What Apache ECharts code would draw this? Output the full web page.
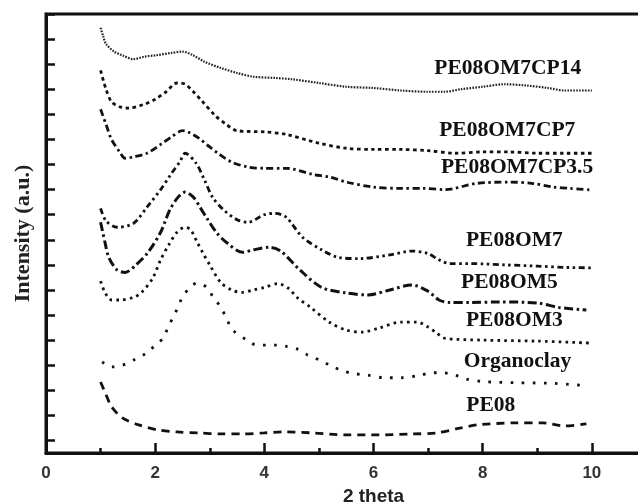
<!DOCTYPE html>
<html>
<head>
<meta charset="utf-8">
<script src="https://cdn.jsdelivr.net/npm/echarts@6/dist/echarts.min.js"></script>
<style>html,body{margin:0;padding:0;background:#fff}#c{width:638px;height:502px}</style>
</head>
<body>
<div id="c"></div>
<script>
const seriesNames = ['PE08OM7CP14','PE08OM7CP7','PE08OM7CP3.5','PE08OM7','PE08OM5','PE08OM3','Organoclay','PE08'];
const xTickLabels = ['0','2','4','6','8','10'];

const cp14 = [[1.0,16.45],[1.05,16.1],[1.1,15.8],[1.25,15.5],[1.4,15.35],[1.6,15.2],[1.8,15.3],[2.0,15.35],[2.3,15.45],[2.5,15.5],[2.7,15.35],[2.9,15.1],[3.2,14.85],[3.5,14.65],[3.8,14.5],[4.2,14.45],[4.5,14.4],[5.0,14.25],[5.5,14.1],[6.0,14.05],[6.5,13.95],[7.0,13.9],[7.3,13.9],[7.6,14.0],[8.0,14.1],[8.4,14.2],[8.8,14.15],[9.2,14.05],[9.5,13.95],[10,13.95]];
const cp7 = [[1.0,14.75],[1.1,14.0],[1.2,13.5],[1.35,13.3],[1.5,13.25],[1.8,13.4],[2.0,13.6],[2.2,13.9],[2.4,14.25],[2.55,14.2],[2.7,13.9],[2.85,13.55],[3.1,12.95],[3.3,12.6],[3.5,12.35],[4.0,12.3],[4.4,12.2],[5.0,11.85],[5.5,11.65],[6.0,11.6],[6.5,11.6],[7.0,11.55],[7.5,11.45],[8.0,11.5],[8.5,11.5],[9.0,11.45],[9.5,11.45],[10,11.45]];
const cp35 = [[1.0,13.2],[1.1,12.6],[1.2,12.0],[1.35,11.5],[1.45,11.25],[1.6,11.3],[1.85,11.45],[2.1,11.8],[2.3,12.1],[2.5,12.35],[2.6,12.3],[2.8,12.05],[3.0,11.7],[3.15,11.45],[3.4,11.1],[3.7,10.9],[4.0,10.85],[4.4,10.85],[4.9,10.6],[5.2,10.5],[5.5,10.3],[6.0,10.1],[6.5,10.05],[6.9,10.05],[7.3,10.0],[7.9,10.25],[8.5,10.3],[8.9,10.25],[9.3,10.1],[9.6,10.05],[10,9.98]];
const om7 = [[1.0,9.25],[1.1,8.75],[1.3,8.5],[1.6,8.65],[1.85,9.3],[2.1,10.0],[2.3,10.65],[2.45,11.1],[2.55,11.45],[2.75,11.05],[2.9,10.4],[3.05,9.7],[3.25,9.2],[3.5,8.8],[3.7,8.7],[4.0,9.0],[4.2,9.05],[4.4,8.9],[4.7,8.1],[5.05,7.6],[5.35,7.3],[5.75,7.25],[6.3,7.4],[6.7,7.55],[7.0,7.45],[7.2,7.2],[7.4,7.05],[7.8,7.05],[8.4,7.0],[9.0,6.95],[9.5,6.9],[10,6.88]];
const om5 = [[1.0,8.7],[1.08,7.9],[1.15,7.3],[1.3,6.8],[1.45,6.7],[1.65,7.0],[1.87,7.5],[2.1,8.3],[2.27,9.2],[2.42,9.7],[2.55,9.9],[2.7,9.7],[2.82,9.3],[2.95,8.85],[3.13,8.27],[3.32,7.87],[3.6,7.5],[3.8,7.6],[4.1,7.7],[4.3,7.55],[4.65,6.8],[5.05,6.1],[5.5,5.88],[5.9,5.8],[6.3,6.0],[6.7,6.2],[7.0,5.95],[7.2,5.6],[7.4,5.5],[7.8,5.5],[8.3,5.52],[9.0,5.48],[9.4,5.3],[9.9,5.2]];
const om3 = [[1.0,6.35],[1.08,5.9],[1.2,5.6],[1.35,5.6],[1.6,5.7],[1.75,5.9],[1.95,6.45],[2.1,7.2],[2.25,7.8],[2.4,8.3],[2.55,8.5],[2.65,8.4],[2.77,7.9],[2.88,7.45],[3.0,7.0],[3.2,6.3],[3.4,6.0],[3.6,5.9],[3.8,6.0],[4.0,6.1],[4.25,6.25],[4.45,6.05],[4.6,5.7],[4.85,5.3],[5.2,4.7],[5.5,4.4],[5.8,4.32],[6.1,4.48],[6.5,4.72],[6.8,4.72],[7.0,4.52],[7.15,4.3],[7.3,4.08],[8.0,4.0],[9.0,3.96],[10,3.88]];
const organoclay = [[1.03,3.13],[1.2,2.93],[1.4,3.0],[1.6,3.2],[1.78,3.4],[1.9,3.6],[2.05,3.88],[2.15,4.08],[2.23,4.48],[2.33,4.92],[2.42,5.32],[2.5,5.72],[2.64,6.1],[2.77,6.28],[2.95,6.1],[3.06,5.72],[3.2,5.32],[3.32,4.8],[3.42,4.4],[3.68,4.0],[3.86,3.8],[4.05,3.8],[4.23,3.8],[4.41,3.75],[4.6,3.65],[4.8,3.4],[5.02,3.2],[5.2,3.0],[5.4,2.8],[5.6,2.68],[5.9,2.6],[6.2,2.5],[6.5,2.5],[6.85,2.6],[7.07,2.7],[7.27,2.7],[7.5,2.6],[7.7,2.45],[8.0,2.35],[8.6,2.3],[9.25,2.28],[9.8,2.2]];
const pe08 = [[1.0,2.33],[1.08,1.93],[1.2,1.35],[1.4,0.9],[1.7,0.62],[2.05,0.42],[2.4,0.34],[2.8,0.3],[3.2,0.26],[3.6,0.26],[4.0,0.3],[4.35,0.34],[4.9,0.3],[5.5,0.22],[6.1,0.22],[6.7,0.26],[7.15,0.3],[7.6,0.5],[7.9,0.62],[8.6,0.7],[9.1,0.7],[9.5,0.58],[9.9,0.66]];

// label anchor points (data coordinates)
const labelX = [8.46, 8.45, 8.63, 8.58, 8.49, 8.58, 8.64, 8.15];
const labelY = [14.84, 12.37, 10.9, 7.99, 6.28, 4.8, 3.13, 1.41];

const allData = [cp14, cp7, cp35, om7, om5, om3, organoclay, pe08];
const styles = [
  {width: 2.2, type: [1.6, 1.3], color: '#222'},
  {width: 2.8, type: [3.5, 3.5], color: '#111'},
  {width: 2.8, type: [7, 3.5, 2.5, 3.5], color: '#111'},
  {width: 2.8, type: [6, 3.5, 2.5, 3.5, 2.5, 3.5], color: '#111'},
  {width: 3.0, type: [9, 3.5, 2.5, 3.5], color: '#111'},
  {width: 2.8, type: [2.6, 4.2], color: '#111'},
  {width: 2.8, type: [2.6, 8.5], color: '#111'},
  {width: 2.8, type: [8, 6], color: '#111'}
];

const chart = echarts.init(document.getElementById('c'), null, {renderer: 'canvas'});
const series = allData.map((d, i) => ({
  type: 'line',
  name: seriesNames[i],
  data: d,
  smooth: 0.3,
  showSymbol: false,
  symbol: 'none',
  lineStyle: {color: styles[i].color, width: styles[i].width, type: styles[i].type, cap: 'butt'},
  animation: false,
  silent: true,
  markPoint: {
    symbol: 'circle', symbolSize: 0, silent: true, animation: false,
    label: {show: true, position: 'inside', formatter: seriesNames[i], color: '#111',
      fontFamily: 'Liberation Serif', fontWeight: 'bold', fontSize: 21.5},
    data: [{coord: [labelX[i], labelY[i]]}]
  }
}));

chart.setOption({
  backgroundColor: '#fff',
  animation: false,
  grid: {left: 46, right: -63, top: 14, bottom: 49, outerBoundsMode: 'none', containLabel: false,
    show: true, borderColor: '#111', borderWidth: 3, backgroundColor: 'transparent'},
  xAxis: {
    type: 'value', min: 0, max: 12, interval: 2,
    name: '2 theta', nameLocation: 'middle', nameGap: 28,
    nameTextStyle: {fontFamily: 'Liberation Sans', fontWeight: 'bold', fontSize: 19, color: '#222'},
    axisLine: {show: true, onZero: false, lineStyle: {color: '#111', width: 3}},
    axisTick: {show: true, inside: true, length: 10, lineStyle: {color: '#111', width: 2.5}},
    minorTick: {show: true, splitNumber: 2, length: 5, lineStyle: {color: '#111', width: 2.5}},
    axisLabel: {show: true, margin: 12, color: '#333', fontFamily: 'Liberation Sans', fontWeight: 'bold', fontSize: 17,
      formatter: v => xTickLabels.indexOf(String(v)) >= 0 ? String(v) : ''},
    splitLine: {show: false}
  },
  yAxis: {
    type: 'value', min: -0.5, max: 17, minInterval: 1, maxInterval: 1, splitNumber: 17,
    name: 'Intensity (a.u.)', nameLocation: 'middle', nameGap: 12, nameRotate: 90,
    nameTextStyle: {fontFamily: 'Liberation Serif', fontWeight: 'bold', fontSize: 22, color: '#222'},
    axisLine: {show: true, onZero: false, lineStyle: {color: '#111', width: 3}},
    axisTick: {show: true, inside: true, length: 9, lineStyle: {color: '#111', width: 2.5}},
    axisLabel: {show: false},
    splitLine: {show: false}
  },
  series: series
});
</script>
</body>
</html>
